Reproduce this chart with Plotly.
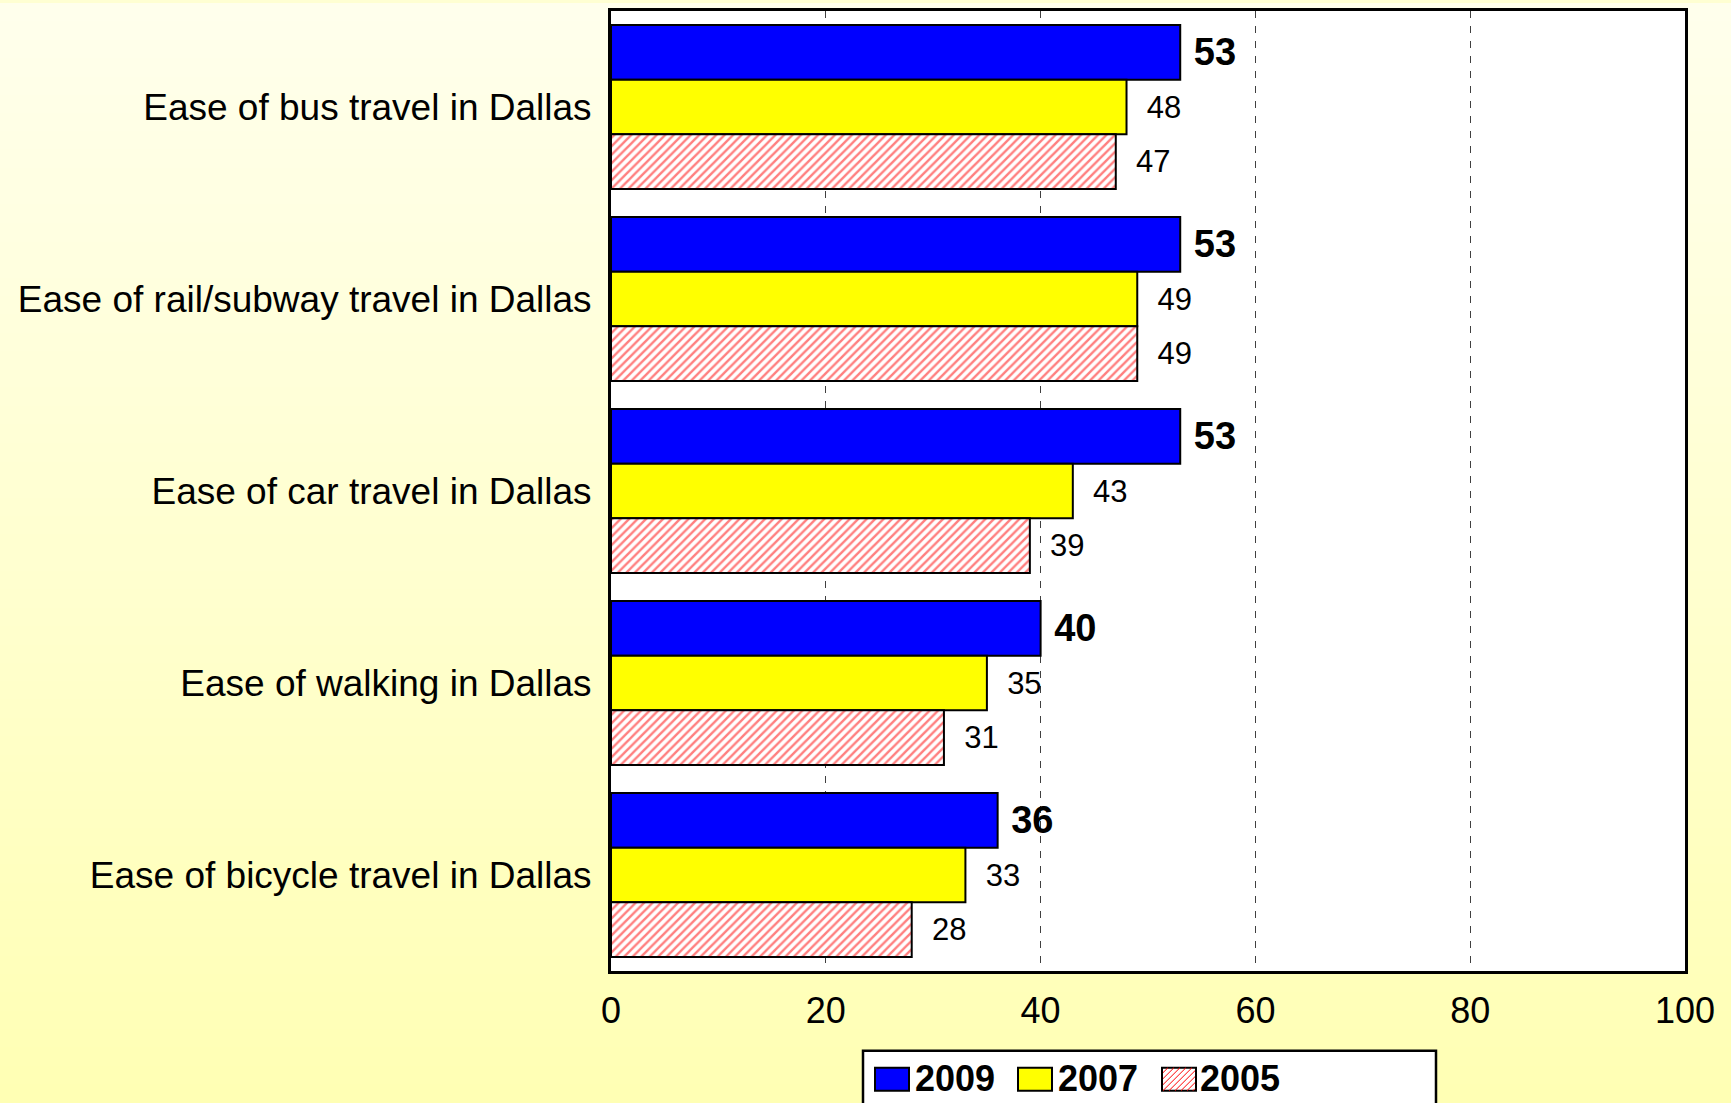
import plotly.graph_objects as go

categories = [
    "Ease of bus travel in Dallas",
    "Ease of rail/subway travel in Dallas",
    "Ease of car travel in Dallas",
    "Ease of walking in Dallas",
    "Ease of bicycle travel in Dallas",
]
years = ["2009", "2007", "2005"]
values_2009 = [53, 53, 53, 40, 36]
values_2007 = [48, 49, 43, 35, 33]
values_2005 = [47, 49, 39, 31, 28]
x_ticks = [0, 20, 40, 60, 80, 100]

W, H = 1731, 1103
PL, PR, PT, PB = 611, 1685, 8, 971  # plot area in pixels

def px_x(p):
    return (p - PL) / (PR - PL)

def px_y(p):
    return (PB - p) / (PB - PT)

FONT = "Arial, Liberation Sans, sans-serif"

fig = go.Figure()
fig.add_trace(go.Bar(
    name=years[0], y=categories, x=values_2009, orientation="h",
    marker=dict(color="#0000FF", line=dict(color="black", width=2)),
    texttemplate=" %{x}", textposition="outside",
    textfont=dict(family=FONT, size=38, color="black", weight="bold"),
    cliponaxis=False, constraintext="none", hoverinfo="skip",
))
fig.add_trace(go.Bar(
    name=years[1], y=categories, x=values_2007, orientation="h",
    marker=dict(color="#FFFF00", line=dict(color="black", width=2)),
    texttemplate="  %{x}", textposition="outside",
    textfont=dict(family=FONT, size=31, color="black"),
    cliponaxis=False, constraintext="none", hoverinfo="skip",
))
fig.add_trace(go.Bar(
    name=years[2], y=categories, x=values_2005, orientation="h",
    marker=dict(color="white", line=dict(color="black", width=2),
                pattern=dict(shape="/", fgcolor="#FF0000", bgcolor="white",
                             size=6, solidity=0.4)),
    texttemplate="  %{x}", textposition="outside",
    textfont=dict(family=FONT, size=31, color="black"),
    cliponaxis=False, constraintext="none", hoverinfo="skip",
))

shapes = []
# background vertical gradient
N = 60
top = (255, 255, 236)
bot = (255, 255, 180)
for i in range(N):
    t = i / (N - 1)
    c = tuple(round(top[k] + (bot[k] - top[k]) * t) for k in range(3))
    y0 = H * i / N
    y1 = H * (i + 1) / N + 1
    shapes.append(dict(type="rect", xref="paper", yref="paper", layer="below",
                       x0=px_x(-5), x1=px_x(W + 5), y0=px_y(y1), y1=px_y(y0),
                       fillcolor="rgb(%d,%d,%d)" % c, line=dict(width=0)))
# white plot area
shapes.append(dict(type="rect", xref="paper", yref="paper", layer="below",
                   x0=0, x1=1, y0=0, y1=1, fillcolor="white", line=dict(width=0)))

# custom legend
LX0, LX1, LY0, LY1 = 863, 1436, 1051, 1115
shapes.append(dict(type="rect", xref="paper", yref="paper", layer="above",
                   x0=px_x(LX0), x1=px_x(LX1), y0=px_y(LY1), y1=px_y(LY0),
                   fillcolor="white", line=dict(color="black", width=2.5)))
sw_y0, sw_y1 = 1068, 1091
swatches = [(875, 909, "#0000FF", 913), (1018, 1052, "#FFFF00", 1056), (1162, 1196, "white", 1198)]
annotations = []
for (sx0, sx1, col, tx), yr in zip(swatches, years):
    shapes.append(dict(type="rect", xref="paper", yref="paper", layer="above",
                       x0=px_x(sx0), x1=px_x(sx1), y0=px_y(sw_y1), y1=px_y(sw_y0),
                       fillcolor=col, line=dict(color="black", width=2)))
    annotations.append(dict(xref="paper", yref="paper", x=px_x(tx), y=px_y(1079),
                            xanchor="left", yanchor="middle", showarrow=False,
                            text="<b>%s</b>" % yr,
                            font=dict(family=FONT, size=36, color="black")))
# hatch lines in the 2005 swatch
sx0, sx1 = swatches[2][0], swatches[2][1]
hgt = sw_y1 - sw_y0
step = 6
k = sx0 - hgt
while k < sx1:
    ax, ay, bx, by = k, sw_y1, k + hgt, sw_y0
    if ax < sx0 + 1:
        ay = sw_y1 - (sx0 + 1 - ax)
        ax = sx0 + 1
    if bx > sx1 - 1:
        by = sw_y0 + (bx - (sx1 - 1))
        bx = sx1 - 1
    if bx > ax:
        shapes.append(dict(type="line", xref="paper", yref="paper", layer="above",
                           x0=px_x(ax), y0=px_y(ay), x1=px_x(bx), y1=px_y(by),
                           line=dict(color="#FF0000", width=1)))
    k += step

fig.update_layout(
    width=W, height=H,
    margin=dict(l=PL, r=W - PR, t=PT, b=H - PB, pad=0),
    barmode="group", bargap=0.145, bargroupgap=0,
    paper_bgcolor="rgb(255,255,210)", plot_bgcolor="white",
    showlegend=False,
    font=dict(family=FONT, color="black"),
    shapes=shapes, annotations=annotations,
)
fig.update_xaxes(
    range=[0, 100], tickvals=x_ticks, ticktext=[str(v) for v in x_ticks],
    showgrid=True, gridcolor="#404040", gridwidth=1, griddash="7px,8px",
    zeroline=False, showline=True, mirror=True, linecolor="black", linewidth=3,
    ticks="", ticklabelstandoff=6, tickfont=dict(family=FONT, size=36, color="black"),
)
fig.update_yaxes(
    categoryorder="array", categoryarray=categories, autorange="reversed",
    showgrid=False, zeroline=False, showline=True, mirror=True,
    linecolor="black", linewidth=3, ticks="", ticklabelstandoff=9,
    tickfont=dict(family=FONT, size=37, color="black"),
)

fig.write_html("out.html")
